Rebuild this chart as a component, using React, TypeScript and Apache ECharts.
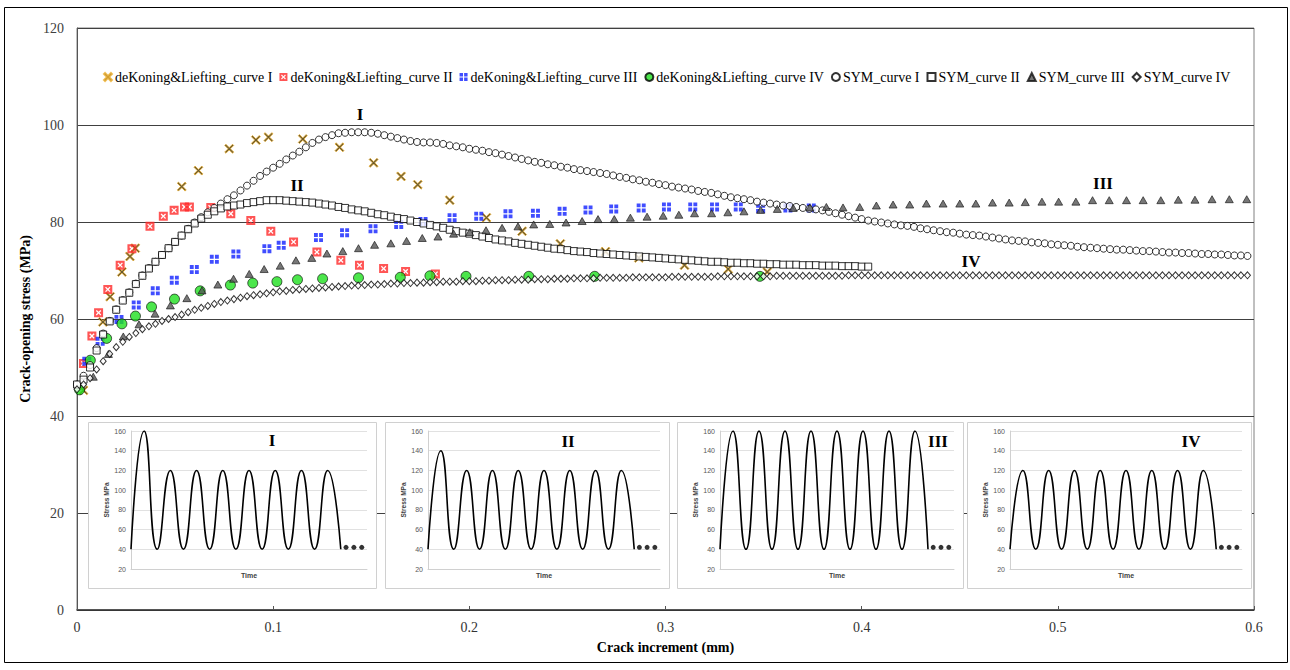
import React, { useEffect, useRef } from "react";
import * as echarts from "echarts";

// ---------- main chart data ----------
const SERIES_NAMES = [
  "deKoning&Liefting_curve I",
  "deKoning&Liefting_curve II",
  "deKoning&Liefting_curve III",
  "deKoning&Liefting_curve IV",
  "SYM_curve I",
  "SYM_curve II",
  "SYM_curve III",
  "SYM_curve IV",
];

const dk1X = [0.0033, 0.0132, 0.0169, 0.0229, 0.027, 0.0297, 0.0534, 0.0619, 0.0776, 0.0912, 0.0976, 0.1151, 0.1338, 0.1512, 0.1652, 0.1737, 0.19, 0.2087, 0.2269, 0.2464, 0.2694, 0.2864, 0.3097, 0.332, 0.3519];
const dk1Y = [45.3, 59.4, 64.6, 69.7, 72.9, 74.6, 87.3, 90.6, 95.1, 96.9, 97.5, 97.1, 95.4, 92.2, 89.4, 87.7, 84.5, 80.9, 78.1, 75.5, 73.9, 72.6, 71.1, 70.3, 69.7];

const dk2X = [0.0033, 0.0076, 0.011, 0.0157, 0.022, 0.028, 0.0372, 0.044, 0.0495, 0.0548, 0.0573, 0.0682, 0.0784, 0.0886, 0.0988, 0.1104, 0.1223, 0.1345, 0.144, 0.1563, 0.1675, 0.1827];
const dk2Y = [50.8, 56.5, 61.3, 66.1, 71.1, 74.5, 79.1, 81.2, 82.4, 83.1, 83.1, 83.0, 81.7, 80.3, 78.1, 75.9, 73.8, 72.1, 71.1, 70.4, 69.8, 69.3];

const dk3X = [0.005, 0.0118, 0.0214, 0.0302, 0.0399, 0.0496, 0.0598, 0.07, 0.081, 0.0968, 0.1041, 0.1231, 0.1364, 0.1509, 0.164, 0.1764, 0.1912, 0.2048, 0.2197, 0.2337, 0.2473, 0.2605, 0.2736, 0.2876, 0.3005, 0.3139, 0.325, 0.3371, 0.3485, 0.3624, 0.3743];
const dk3Y = [51.3, 55.4, 59.9, 62.9, 65.8, 68.0, 70.2, 72.3, 73.4, 74.5, 75.2, 76.8, 77.8, 78.6, 79.5, 80.1, 80.9, 81.2, 81.7, 81.8, 82.2, 82.5, 82.7, 82.9, 83.1, 83.1, 83.1, 83.1, 82.8, 82.9, 82.9];

const dk4X = [0.0013, 0.0068, 0.0151, 0.0229, 0.0298, 0.038, 0.0497, 0.0628, 0.0782, 0.0896, 0.1019, 0.1124, 0.1252, 0.1435, 0.1648, 0.1799, 0.1983, 0.2303, 0.2639, 0.3481];
const dk4Y = [45.4, 51.5, 56.0, 59.0, 60.6, 62.5, 64.1, 65.8, 67.0, 67.4, 67.7, 68.1, 68.3, 68.5, 68.6, 68.9, 68.8, 68.8, 68.8, 68.8];

// SYM curves I, II, IV are sampled every 1/300 mm
const SYM_STEP = 1 / 300;
const symIY = [
  46.5, 48.3, 50.5, 54.0, 57.0, 59.6, 62.0, 63.9, 65.5, 67.3,
  69.0, 70.5, 71.8, 73.2, 74.6, 75.9, 77.2, 78.6, 79.9, 81.0,
  82.0, 82.9, 83.8, 84.7, 85.5, 86.5, 87.5, 88.5, 89.5, 90.4,
  91.2, 92.0, 92.9, 93.7, 94.5, 95.4, 96.3, 97.0, 97.5, 97.9,
  98.3, 98.4, 98.5, 98.5, 98.5, 98.4, 98.2, 97.9, 97.6, 97.3,
  97.0, 96.7, 96.5, 96.4, 96.4, 96.3, 96.1, 95.8, 95.6, 95.4,
  95.1, 94.9, 94.7, 94.4, 94.2, 93.9, 93.6, 93.3, 93.0, 92.7,
  92.4, 92.2, 91.9, 91.7, 91.4, 91.2, 90.9, 90.7, 90.5, 90.3,
  90.1, 89.9, 89.6, 89.3, 89.1, 88.8, 88.6, 88.3, 88.1, 87.8,
  87.6, 87.3, 87.1, 86.9, 86.7, 86.4, 86.2, 86.0, 85.7, 85.4,
  85.1, 84.9, 84.7, 84.5, 84.2, 84.0, 83.8, 83.6, 83.4, 83.3,
  83.1, 82.9, 82.7, 82.6, 82.4, 82.1, 81.8, 81.5, 81.2, 80.9,
  80.6, 80.3, 80.1, 79.9, 79.7, 79.5, 79.3, 79.2, 79.0, 78.7,
  78.5, 78.3, 78.1, 77.9, 77.8, 77.6, 77.4, 77.3, 77.2, 77.0,
  76.8, 76.6, 76.4, 76.2, 76.1, 76.0, 75.8, 75.7, 75.6, 75.4,
  75.3, 75.2, 75.1, 74.9, 74.8, 74.7, 74.6, 74.5, 74.4, 74.3,
  74.3, 74.2, 74.1, 74.0, 74.0, 73.9, 73.8, 73.7, 73.7, 73.6,
  73.6, 73.5, 73.4, 73.4, 73.3, 73.3, 73.2, 73.1, 73.1, 73.0,
];
const symIIY = [
  46.5, 47.5, 50.0, 53.5, 56.8, 59.5, 61.9, 63.8, 65.4, 67.2,
  68.9, 70.4, 71.8, 73.2, 74.6, 75.9, 77.2, 78.5, 79.7, 80.7,
  81.5, 82.2, 82.8, 83.2, 83.4, 83.6, 83.9, 84.1, 84.3, 84.5,
  84.5, 84.5, 84.4, 84.3, 84.2, 84.1, 84.0, 83.8, 83.6, 83.4,
  83.1, 82.9, 82.6, 82.4, 82.2, 81.9, 81.6, 81.4, 81.1, 80.8,
  80.6, 80.3, 80.0, 79.7, 79.4, 79.1, 78.8, 78.4, 78.1, 77.8,
  77.6, 77.3, 77.0, 76.7, 76.4, 76.2, 76.0, 75.7, 75.5, 75.3,
  75.1, 74.9, 74.7, 74.5, 74.4, 74.2, 74.0, 73.9, 73.8, 73.6,
  73.5, 73.4, 73.3, 73.2, 73.1, 73.0, 72.9, 72.8, 72.7, 72.6,
  72.5, 72.4, 72.3, 72.2, 72.1, 72.0, 71.9, 71.8, 71.8, 71.7,
  71.6, 71.6, 71.5, 71.5, 71.4, 71.4, 71.3, 71.3, 71.2, 71.2,
  71.2, 71.1, 71.1, 71.1, 71.0, 71.0, 71.0, 70.9, 70.9, 70.9,
  70.8, 70.8,
];
const symIVY = [
  45.5, 46.5, 47.8, 49.6, 51.3, 52.8, 54.2, 55.3, 56.3, 57.1,
  57.9, 58.5, 59.0, 59.6, 60.0, 60.4, 60.9, 61.4, 61.9, 62.3,
  62.7, 63.1, 63.5, 63.8, 64.1, 64.4, 64.7, 64.9, 65.1, 65.3,
  65.5, 65.7, 65.8, 66.0, 66.1, 66.2, 66.3, 66.4, 66.5, 66.6,
  66.7, 66.8, 66.9, 66.9, 67.0, 67.1, 67.1, 67.2, 67.3, 67.3,
  67.4, 67.4, 67.5, 67.5, 67.6, 67.6, 67.7, 67.7, 67.7, 67.8,
  67.8, 67.8, 67.9, 67.9, 68.0, 68.0, 68.0, 68.1, 68.1, 68.1,
  68.2, 68.2, 68.2, 68.3, 68.3, 68.3, 68.4, 68.4, 68.4, 68.4,
  68.5, 68.5, 68.5, 68.5, 68.5, 68.6, 68.6, 68.6, 68.6, 68.6,
  68.6, 68.7, 68.7, 68.7, 68.7, 68.7, 68.7, 68.7, 68.8, 68.8,
  68.8, 68.8, 68.8, 68.8, 68.8, 68.8, 68.8, 68.9, 68.9, 68.9,
  68.9, 68.9, 68.9, 68.9, 68.9, 68.9, 68.9, 68.9, 69.0, 69.0,
  69.0, 69.0, 69.0, 69.0, 69.0, 69.0, 69.0, 69.0, 69.0, 69.0,
  69.0, 69.0, 69.0, 69.0, 69.0, 69.0, 69.0, 69.0, 69.0, 69.0,
  69.0, 69.0, 69.0, 69.0, 69.0, 69.0, 69.0, 69.0, 69.0, 69.0,
  69.0, 69.0, 69.0, 69.0, 69.0, 69.0, 69.0, 69.0, 69.0, 69.0,
  69.0, 69.0, 69.0, 69.0, 69.0, 69.0, 69.0, 69.0, 69.0, 69.0,
  69.0, 69.0, 69.0, 69.0, 69.0, 69.0, 69.0, 69.0, 69.0, 69.0,
];
const symIIIX = [
  0.0083, 0.016, 0.0236, 0.0316, 0.0398, 0.0476, 0.056, 0.0637, 0.0718, 0.0798,
  0.0878, 0.0954, 0.1036, 0.1116, 0.1197, 0.1274, 0.1355, 0.1435, 0.1517, 0.16,
  0.168, 0.176, 0.184, 0.192, 0.2002, 0.2085, 0.2167, 0.2248, 0.2328, 0.241,
  0.2493, 0.2575, 0.2656, 0.2739, 0.2821, 0.2906, 0.2988, 0.3068, 0.3148, 0.3235,
  0.3318, 0.34, 0.3485, 0.357, 0.3651, 0.3736, 0.382, 0.3905, 0.399, 0.4075,
  0.416, 0.4245, 0.433, 0.4415, 0.45, 0.4582, 0.4667, 0.4752, 0.4834, 0.4919,
  0.5004, 0.5092, 0.5177, 0.5262, 0.535, 0.5435, 0.5525, 0.5614, 0.5699, 0.5786,
  0.5874, 0.5963,
];
const symIIIY = [
  48.1, 52.8, 56.4, 58.9, 61.1, 62.8, 64.3, 65.9, 67.1, 68.3,
  69.3, 70.3, 71.0, 72.1, 72.6, 73.5, 74.0, 74.6, 75.3, 75.6,
  76.1, 76.7, 77.0, 77.6, 77.9, 78.3, 78.8, 79.1, 79.5, 79.6,
  79.9, 80.2, 80.6, 80.6, 80.9, 81.1, 81.3, 81.5, 81.8, 81.8,
  82.0, 82.2, 82.5, 82.7, 82.9, 83.0, 83.1, 83.0, 83.1, 83.4,
  83.6, 83.6, 83.8, 83.8, 83.8, 83.8, 84.0, 84.0, 84.1, 84.2,
  84.2, 84.2, 84.5, 84.5, 84.5, 84.5, 84.5, 84.6, 84.6, 84.7,
  84.7, 84.7,
];

// ---------- inset (loading history) data ----------
const insetTime = [0, 0.5, 1, 1.5, 2, 2.5, 3, 3.5, 4, 4.5, 5, 5.5, 6, 6.5, 7, 7.5, 8];
const waveI = [40, 160, 40, 120, 40, 120, 40, 120, 40, 120, 40, 120, 40, 120, 40, 120, 40];
const waveII = [40, 140, 40, 120, 40, 120, 40, 120, 40, 120, 40, 120, 40, 120, 40, 120, 40];
const waveIII = [40, 160, 40, 160, 40, 160, 40, 160, 40, 160, 40, 160, 40, 160, 40, 160, 40];
const waveIV = [40, 120, 40, 120, 40, 120, 40, 120, 40, 120, 40, 120, 40, 120, 40, 120, 40];
const dotsTime = [8.2, 8.5, 8.8];
const dotsStress = [42, 42, 42];
const insetNames = ["I", "II", "III", "IV"];
const insetTicksMin = 20;
const insetTicksMax = 160;

const zip = (xs: number[], ys: number[]) => xs.map((x, i) => [x, ys[i]]);
const stepped = (ys: number[]) => ys.map((y, i) => [i * SYM_STEP, y]);

// symbol paths
const X_PATH = "path://M0,1.3 L1.3,0 L5,3.7 L8.7,0 L10,1.3 L6.3,5 L10,8.7 L8.7,10 L5,6.3 L1.3,10 L0,8.7 L3.7,5 Z";
const RED_PATH = "path://M0,0 L10,0 L10,10 L0,10 Z M2,3 L4,5 L2,7 L3,8 L5,6 L7,8 L8,7 L6,5 L8,3 L7,2 L5,4 L3,2 Z";
const BLUE_PATH = "path://M0,0 L4.3,0 L4.3,4.3 L0,4.3 Z M5.7,0 L10,0 L10,4.3 L5.7,4.3 Z M0,5.7 L4.3,5.7 L4.3,10 L0,10 Z M5.7,5.7 L10,5.7 L10,10 L5.7,10 Z";

const SERIF = "Liberation Serif";
const SANS = "Liberation Sans";

export default function App() {
  const ref = useRef<HTMLDivElement>(null);

  useEffect(() => {
    if (!ref.current) return;
    const chart = echarts.init(ref.current, undefined, { renderer: "svg" });

    const boxes = [
      [88, 422, 288, 166],
      [385, 422, 284, 166],
      [677, 422, 286, 166],
      [967, 422, 284, 166],
    ];
    const waves = [waveI, waveII, waveIII, waveIV];
    const insetLabelPos = [
      [272, 440],
      [568, 441],
      [938, 441],
      [1191, 441],
    ];

    const grids: any[] = [
      { left: 77, right: 36, top: 28, bottom: 60, show: true, borderColor: "#808080", borderWidth: 1, backgroundColor: "transparent" },
    ];
    const xAxes: any[] = [
      {
        type: "value", gridIndex: 0, min: 0, max: 0.6, interval: 0.1,
        axisLine: { show: true, onZero: false, lineStyle: { color: "#333", width: 1.5 } },
        axisTick: { show: true, inside: true, length: 4, lineStyle: { color: "#555" } },
        axisLabel: { color: "#333", fontSize: 14, fontFamily: SERIF, margin: 10, formatter: (v: number) => String(Math.round(v * 10) / 10) },
        splitLine: { show: false },
        name: "Crack increment (mm)", nameLocation: "middle", nameGap: 30,
        nameTextStyle: { fontWeight: "bold", fontSize: 14, color: "#000", fontFamily: SERIF },
      },
    ];
    const yAxes: any[] = [
      {
        type: "value", gridIndex: 0, min: 0, max: 120, interval: 20,
        axisLine: { show: true, lineStyle: { color: "#555", width: 1 } },
        axisTick: { show: false },
        axisLabel: { color: "#404040", fontSize: 14, fontFamily: SERIF, margin: 13 },
        splitLine: { show: true, lineStyle: { color: "#404040", width: 1 } },
        name: "Crack-opening stress (MPa)", nameLocation: "middle", nameGap: 23, nameRotate: 90,
        nameTextStyle: { fontWeight: "bold", fontSize: 14, color: "#000", fontFamily: SERIF },
      },
    ];

    const series: any[] = [
      { type: "scatter", name: SERIES_NAMES[0], data: zip(dk1X, dk1Y), symbol: X_PATH, symbolSize: 9, itemStyle: { color: "#3d2e00", borderColor: "#eeb030", borderWidth: 1 }, z: 2 },
      { type: "scatter", name: SERIES_NAMES[1], data: zip(dk2X, dk2Y), symbol: RED_PATH, symbolSize: 9, itemStyle: { color: "#ff2a2a" }, z: 2 },
      { type: "scatter", name: SERIES_NAMES[2], data: zip(dk3X, dk3Y), symbol: BLUE_PATH, symbolSize: 9, itemStyle: { color: "#1020ff" }, z: 2 },
      { type: "scatter", name: SERIES_NAMES[3], data: zip(dk4X, dk4Y), symbol: "circle", symbolSize: 10, itemStyle: { color: "#1fe01f", borderColor: "#000", borderWidth: 0.8 }, z: 2 },
      { type: "scatter", name: SERIES_NAMES[4], data: stepped(symIY), symbol: "circle", symbolSize: 7, itemStyle: { color: "#fff", borderColor: "#000", borderWidth: 1 }, z: 3 },
      { type: "scatter", name: SERIES_NAMES[5], data: stepped(symIIY), symbol: "rect", symbolSize: 7, itemStyle: { color: "#fff", borderColor: "#000", borderWidth: 1 }, z: 3 },
      { type: "scatter", name: SERIES_NAMES[6], data: zip(symIIIX, symIIIY), symbol: "triangle", symbolSize: [8, 7], itemStyle: { color: "#555", borderColor: "#111", borderWidth: 0.8 }, z: 3 },
      { type: "scatter", name: SERIES_NAMES[7], data: stepped(symIVY), symbol: "diamond", symbolSize: [6, 7], itemStyle: { color: "#fff", borderColor: "#000", borderWidth: 1 }, z: 3 },
    ];

    const graphics: any[] = [
      { type: "rect", shape: { x: 4.5, y: 7.5, width: 1283, height: 655 }, style: { fill: "none", stroke: "#000", lineWidth: 1 }, silent: true, z: 1 },
      { type: "text", x: 360, y: 114, style: { text: "I", font: `bold 17px "${SERIF}"`, fill: "#000", align: "center", verticalAlign: "middle" }, z: 20 },
      { type: "text", x: 297, y: 185, style: { text: "II", font: `bold 17px "${SERIF}"`, fill: "#000", align: "center", verticalAlign: "middle" }, z: 20 },
      { type: "text", x: 1103, y: 183, style: { text: "III", font: `bold 17px "${SERIF}"`, fill: "#000", align: "center", verticalAlign: "middle" }, z: 20 },
      { type: "text", x: 971, y: 261, style: { text: "IV", font: `bold 17px "${SERIF}"`, fill: "#000", align: "center", verticalAlign: "middle" }, z: 20 },
    ];

    boxes.forEach((b, k) => {
      const gi = k + 1;
      graphics.push({ type: "rect", shape: { x: b[0] + 0.5, y: b[1] + 0.5, width: b[2], height: b[3] }, style: { fill: "#fff", stroke: "#d0d0d0", lineWidth: 1 }, silent: true, z: 10 });
      graphics.push({ type: "text", x: insetLabelPos[k][0], y: insetLabelPos[k][1], style: { text: insetNames[k], font: `bold 17px "${SERIF}"`, fill: "#000", align: "center", verticalAlign: "middle" }, z: 20 });
      grids.push({ left: b[0] + 43, top: b[1] + 9, width: b[2] - 52, height: 138, show: false });
      xAxes.push({
        type: "value", gridIndex: gi, min: 0, max: 9,
        axisLine: { show: true, onZero: false, lineStyle: { color: "#d0d0d0" } },
        axisTick: { show: false }, axisLabel: { show: false }, splitLine: { show: false },
        name: "Time", nameLocation: "middle", nameGap: 3,
        nameTextStyle: { fontSize: 7, fontWeight: "bold", color: "#404040", fontFamily: SANS },
        z: 11,
      });
      yAxes.push({
        type: "value", gridIndex: gi, min: insetTicksMin, max: insetTicksMax, interval: 20,
        axisLine: { show: true, lineStyle: { color: "#d0d0d0" } },
        axisTick: { show: false },
        axisLabel: { fontSize: 7, color: "#595959", margin: 5, fontFamily: SANS },
        splitLine: { show: true, lineStyle: { color: "#d9d9d9", width: 0.8 } },
        name: "Stress MPa", nameLocation: "middle", nameGap: 20,
        nameTextStyle: { fontSize: 6.5, fontWeight: "bold", color: "#404040", fontFamily: SANS },
        z: 11,
      });
      series.push({
        type: "line", name: "load" + k, xAxisIndex: gi, yAxisIndex: gi,
        data: zip(insetTime, waves[k]), smooth: 0.55, showSymbol: false, symbol: "none",
        lineStyle: { color: "#000", width: 1.6 }, z: 12, silent: true,
      });
      series.push({
        type: "scatter", name: "dots" + k, xAxisIndex: gi, yAxisIndex: gi,
        data: zip(dotsTime, dotsStress), symbol: "circle", symbolSize: 5,
        itemStyle: { color: "#000" }, z: 12, silent: true,
      });
    });

    chart.setOption({
      animation: false,
      backgroundColor: "#fff",
      textStyle: { fontFamily: SERIF },
      legend: {
        data: SERIES_NAMES, left: 98, top: 65, itemWidth: 8, itemHeight: 8, itemGap: 7,
        selectedMode: false,
        textStyle: { fontFamily: SERIF, fontSize: 14, color: "#000", padding: [0, 0, 0, -2] },
      },
      grid: grids,
      xAxis: xAxes,
      yAxis: yAxes,
      series,
      graphic: { elements: graphics },
    });

    return () => chart.dispose();
  }, []);

  return (
    <div
      ref={ref}
      style={{ position: "fixed", left: 0, top: 0, width: 1290, height: 670, background: "#fff" }}
    />
  );
}
